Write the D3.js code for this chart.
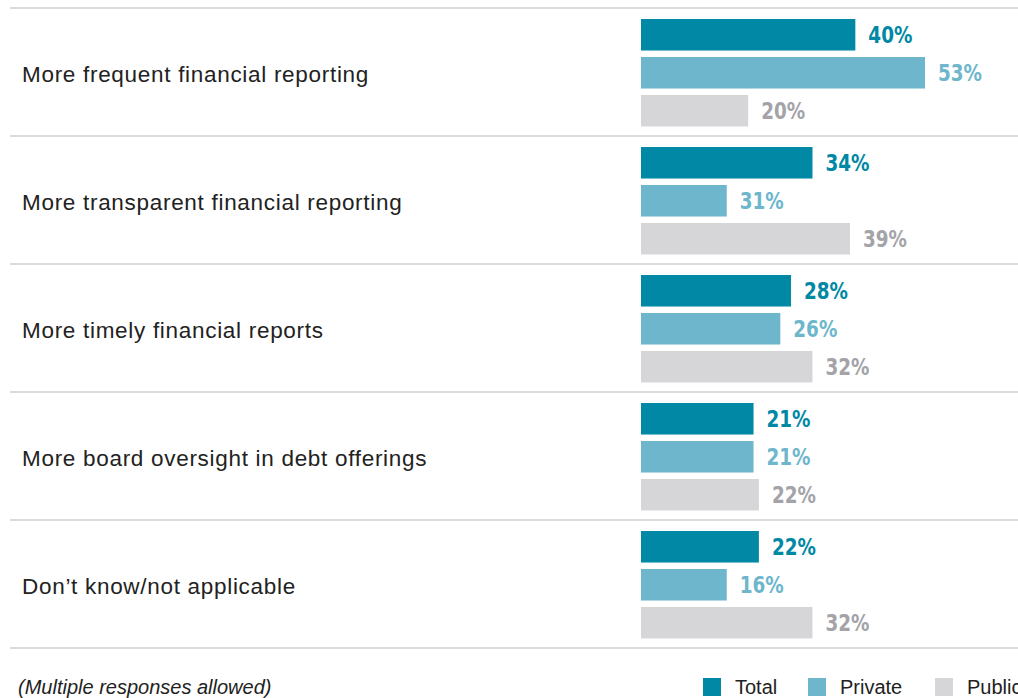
<!DOCTYPE html>
<html>
<head>
<meta charset="utf-8">
<script src="https://cdn.jsdelivr.net/npm/d3@7"></script>
<style>
  body { margin: 0; background: #fff; }
  .cat { font-family: "Liberation Sans", Arial, sans-serif; font-size: 22.5px; letter-spacing: 0.7px; fill: #222; }
  .val { font-family: "DejaVu Sans", sans-serif; font-weight: bold; font-size: 23px; }
  .note { font-family: "Liberation Sans", sans-serif; font-style: italic; font-size: 20px; fill: #222; }
  .leg { font-family: "Liberation Sans", sans-serif; font-size: 20px; fill: #222; }
</style>
</head>
<body>
<svg id="chart"></svg>
<script>
// data
const categories = [
  'More frequent financial reporting',
  'More transparent financial reporting',
  'More timely financial reports',
  'More board oversight in debt offerings',
  'Don\u2019t know/not applicable'
];
const seriesNames = ['Total', 'Private', 'Public'];
// printed percentages
const totalLabels = [40, 34, 28, 21, 22];
const privateLabels = [53, 31, 26, 21, 16];
const publicLabels = [20, 39, 32, 22, 32];
// bar lengths as drawn in the reference (row 2 bars differ from their labels)
const totalBars = [40, 32, 28, 21, 22];
const privateBars = [53, 16, 26, 21, 16];
const publicBars = [20, 39, 32, 22, 32];
const footnote = '(Multiple responses allowed)';

const barColors = ['#0088a4', '#6db6cb', '#d6d6d8'];
const labelColors = ['#0088a4', '#6db6cb', '#a3a3a8'];

const width = 1018, height = 698;
const svg = d3.select('#chart').attr('width', width).attr('height', height);

const rows = categories.map((c, i) => ({
  cat: c,
  bars: [totalBars[i], privateBars[i], publicBars[i]],
  labels: [totalLabels[i], privateLabels[i], publicLabels[i]]
}));

// scales
const yScale = d3.scaleBand()
  .domain(categories)
  .range([8, 648])
  .padding(0);

const xScale = d3.scaleLinear()
  .domain([0, 53])
  .range([641, 925]);

const inner = d3.scaleBand()
  .domain(seriesNames)
  .range([11, 118.5])
  .paddingInner(0.17);

// separator lines
const lineYs = categories.map(c => yScale(c)).concat([yScale.range()[1]]);
svg.selectAll('.sep')
  .data(lineYs)
  .join('line')
  .attr('x1', 10).attr('x2', width)
  .attr('y1', d => d)
  .attr('y2', d => d)
  .attr('stroke', '#cfcfd1')
  .attr('stroke-width', 1.5);

const groups = svg.selectAll('.row')
  .data(rows)
  .join('g')
  .attr('class', 'row')
  .attr('transform', d => `translate(0,${yScale(d.cat)})`);

groups.append('text')
  .attr('class', 'cat')
  .attr('x', 22)
  .attr('y', yScale.bandwidth() / 2 + 10)
  .text(d => d.cat);

groups.selectAll('rect')
  .data(d => d.bars.map((v, j) => ({ v, s: seriesNames[j], j })))
  .join('rect')
  .attr('x', xScale(0))
  .attr('y', d => inner(d.s))
  .attr('width', d => xScale(d.v) - xScale(0))
  .attr('height', inner.bandwidth())
  .attr('fill', d => barColors[d.j]);

groups.selectAll('.val')
  .data(d => d.bars.map((v, j) => ({ v, lab: d.labels[j], s: seriesNames[j], j })))
  .join('text')
  .attr('class', 'val')
  .attr('transform', d => `translate(${xScale(d.v) + 13},${inner(d.s) + inner.bandwidth() / 2 + 8}) scale(0.8,1)`)
  .attr('fill', d => labelColors[d.j])
  .text(d => d.lab + '%');

// footnote
svg.append('text')
  .attr('class', 'note')
  .attr('x', 18)
  .attr('y', 694)
  .text(footnote);

// legend
const legendX = [703, 808, 935];
const leg = svg.selectAll('.legend')
  .data(seriesNames)
  .join('g')
  .attr('transform', (d, i) => `translate(${legendX[i]},678)`);
leg.append('rect')
  .attr('width', 18).attr('height', 18)
  .attr('fill', (d, i) => barColors[i]);
leg.append('text')
  .attr('class', 'leg')
  .attr('x', 32)
  .attr('y', 16)
  .text(d => d);
</script>
</body>
</html>
